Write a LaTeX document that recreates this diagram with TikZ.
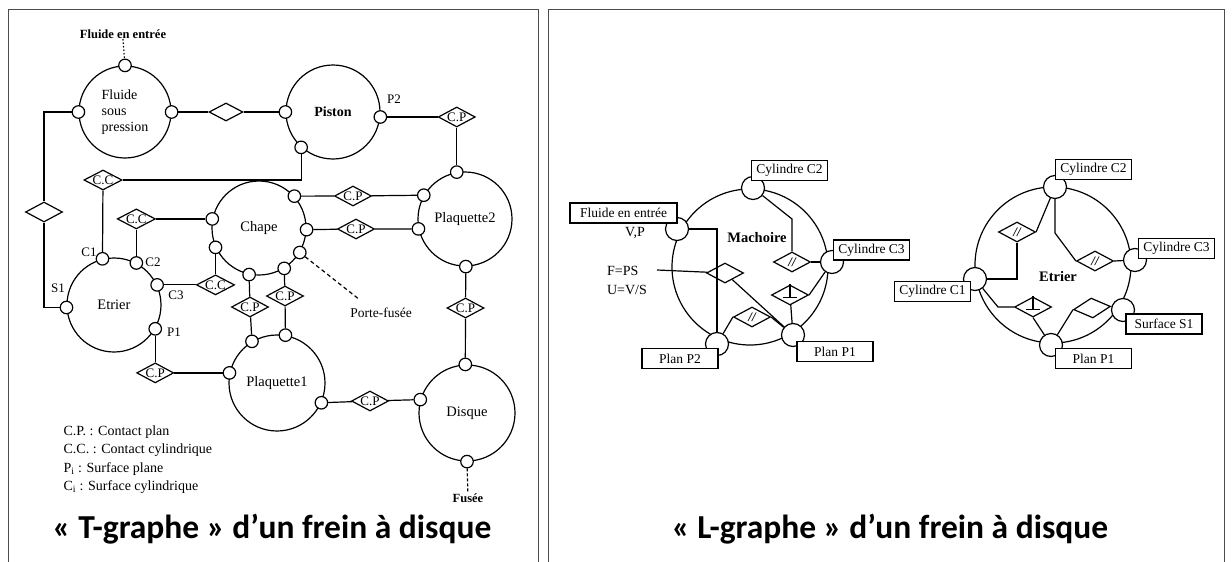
\documentclass[tikz,border=0pt]{standalone}
\usepackage{fontspec}
\setmainfont{Liberation Serif}
\newfontfamily\capfont{Carlito}
\usetikzlibrary{shapes.geometric}
\begin{document}
\begin{tikzpicture}[x=1pt,y=-1pt,line width=1.2pt,
  every node/.style={inner sep=0pt},
  big/.style={circle,draw,minimum size=94pt,font=\fontsize{14.5}{16}\selectfont},
  port/.style={circle,draw,fill=white,minimum size=12.5pt},
  lien/.style={diamond,draw,fill=white,aspect=2,minimum width=37pt,minimum height=20pt,font=\fontsize{13}{13}\selectfont},
  para/.style={lien,font=\itshape\bfseries\fontsize{13}{13}\selectfont},
  txt/.style={font=\fontsize{14}{16}\selectfont},
  bigr/.style={circle,draw,minimum size=156pt},
  portr/.style={circle,draw,fill=white,minimum size=23pt},
  tag/.style={rectangle,draw,fill=white,minimum width=76pt,minimum height=20pt,inner xsep=4pt,font=\fontsize{13.5}{15}\selectfont},
  captxt/.style={font=\capfont\bfseries\fontsize{33.5}{36}\selectfont},
  perpmark/.style={line width=1.7pt},
  panelline/.style={draw=black!70,line width=1pt}]
\useasboundingbox (0,0) rectangle (1232,562);

% panel frames
\draw[panelline] (8,562) -- (8,9) -- (538,9) -- (538,562);
\draw[panelline] (548,562) -- (548,9) -- (1224,9) -- (1224,562);

%% ---------- T-graphe ----------
\node[big,minimum size=92pt,align=left,font=\fontsize{14}{16}\selectfont] (fsp) at (125,112) {Fluide\\sous\\pression};
\node[big,font=\bfseries\fontsize{14}{16}\selectfont] (piston) at (333,112) {Piston};
\node[big] (chape) at (259,228) {Chape};
\node[big] (etrier) at (114,305) {Etrier};
\node[big] (plaq2) at (465,219) {Plaquette2};
\node[big,minimum size=96pt] (plaq1) at (277,383) {Plaquette1};
\node[big,minimum size=96pt] (disque) at (467,413) {Disque};

% surfaces
\node[port] (fT) at (fsp.90) {};
\node[port] (fL) at (fsp.180) {};
\node[port] (fR) at (fsp.0) {};
\node[port] (pL) at (piston.180) {};
\node[port] (pR) at (piston.-6) {};
\node[port] (pB) at (piston.-132) {};
\node[port] (cL) at (chape.169) {};
\node[port] (cLL) at (chape.204) {};
\node[port] (cTR) at (chape.42) {};
\node[port] (cR) at (chape.-2) {};
\node[port] (cLR) at (chape.-31) {};
\node[port] (cBR) at (chape.-58) {};
\node[port] (cB) at (chape.-102) {};
\node[port] (eC1) at (etrier.104) {};
\node[port] (eC2) at (etrier.62) {};
\node[port] (eC3) at (etrier.25) {};
\node[port] (eP1) at (etrier.-30) {};
\node[port] (eS1) at (etrier.183) {};
\node[port] (q2T) at (plaq2.100) {};
\node[port] (q2LU) at (plaq2.150) {};
\node[port] (q2L) at (plaq2.192) {};
\node[port] (q2B) at (plaq2.-89) {};
\node[port] (q1TL) at (plaq1.121) {};
\node[port] (q1T) at (plaq1.80) {};
\node[port] (q1L) at (plaq1.168) {};
\node[port] (q1R) at (plaq1.-24) {};
\node[port] (dT) at (disque.92) {};
\node[port] (dL) at (disque.164) {};
\node[port] (dB) at (disque.-90) {};

% liaisons
\node[lien,minimum width=34pt,minimum height=18pt] (j1) at (226,112) {};
\node[lien] (j2) at (44,212) {};
\node[lien] (j3) at (q2T |- pR) {C.P};
\node[lien] (j4) at (103,180) {C.C};
\node[lien] (j5) at (eC2 |- cL) {C.C};
\node[lien] (j6) at (cLL |- eC3) {C.C};
\node[lien] (j7) at (250,307) {C.P};
\node[lien] (j8) at (285,296) {C.P};
\node[lien] (j9) at (353,196) {C.P};
\node[lien] (j10) at (356,229) {C.P};
\node[lien] (j11) at (465.5,308) {C.P};
\node[lien] (j12) at (eP1 |- q1L) {C.P};
\node[lien] (j13) at (370,401) {C.P};

\draw (fR) -- (j1) -- (pL);
\draw (fL) -| (j2);
\draw (j2) |- (eS1);
\draw (pR) -- (j3) -- (q2T);
\draw (pB) |- (j4);
\draw (j4) -- (eC1);
\draw (eC2) -- (j5) -- (cL);
\draw (cLL) -- (j6) -- (eC3);
\draw (cB) -- (j7) -- (q1TL);
\draw (cBR) -- (j8) -- (q1T);
\draw (cTR) -- (j9) -- (q2LU);
\draw (cR) -- (j10) -- (q2L);
\draw (q2B) -- (j11) -- (dT);
\draw (eP1) -- (j12) -- (q1L);
\draw (q1R) -- (j13) -- (dL);

% external labels
\node[txt,font=\bfseries\fontsize{12.5}{15}\selectfont] (lfin) at (123,34) {Fluide en entrée};
\draw[dash pattern=on 1.5pt off 2pt] (lfin.south) -- (fT);
\node[txt,font=\bfseries\fontsize{12.5}{15}\selectfont] (lfus) at (468,498) {Fusée};
\draw[dash pattern=on 3pt off 2pt] (dB) -- (lfus);
\node[txt,font=\fontsize{13.5}{15}\selectfont] (lpf) at (381,313) {Porte-fusée};
\coordinate (pfe) at (360,300);
\draw[dash pattern=on 4pt off 3pt] (cLR) -- (pfe);

\node[txt,font=\fontsize{13}{15}\selectfont] (lC1) at (89,252) {C1};
\node[txt,font=\fontsize{13}{15}\selectfont] (lC2) at (153,262) {C2};
\node[txt,font=\fontsize{13}{15}\selectfont] (lC3) at (176,295) {C3};
\node[txt,font=\fontsize{13}{15}\selectfont] (lP1) at (174,332) {P1};
\node[txt,font=\fontsize{13}{15}\selectfont] (lS1) at (58,288) {S1};
\node[txt,font=\fontsize{13}{15}\selectfont] (lP2) at (394,99) {P2};

% legend
\node[txt,anchor=west] (leg1) at (63,432) {C.P. : Contact plan};
\node[txt,anchor=west] (leg2) at (63,450.5) {C.C. : Contact cylindrique};
\node[txt,anchor=west] (leg3) at (63,469) {P\textsubscript{i} : Surface plane};
\node[txt,anchor=west] (leg4) at (63,487) {C\textsubscript{i} : Surface cylindrique};

\node[captxt] (capT) at (272,529) {« T-graphe » d’un frein à disque};

%% ---------- L-graphe ----------
\node[bigr] (mach) at (750,267) {};
\node[bigr] (etr) at (1053,265) {};
\node[font=\bfseries\fontsize{14.5}{16}\selectfont] (mlab) at (757,238) {Machoire};
\node[font=\bfseries\fontsize{14.5}{16}\selectfont] (elab) at (1058,277) {Etrier};

\node[portr] (mC2) at (753,188) {};
\node[portr] (mF) at (677,229) {};
\node[portr] (mC3) at (832,262) {};
\node[portr] (mP1) at (793,335) {};
\node[portr] (mP2) at (717,344) {};

\node[portr] (rC2) at (1055,187) {};
\node[portr] (rC3) at (1135,260) {};
\node[portr] (rC1) at (975,279) {};
\node[portr] (rS1) at (1123,310) {};
\node[portr] (rP1) at (1051,345) {};

% Machoire
\node[txt,align=left,font=\fontsize{14}{19}\selectfont] (fps) at (627,280) {F=PS\\U=V/S};
\node[txt] (vp) at (635,233) {V,P};
\coordinate (fpsE) at (657,270);
\node[lien] (mjF) at (725,273) {};
\node[para] (mjB) at (752,317) {//};
\node[lien] (mjT) at (790,295) {};
\draw[perpmark] (mjT.north) -- ++(0,13) ++(-7,0) -- ++(14,0);
\node[para] (mjU) at (792,262) {//};
\coordinate (mk) at (792,219);

\draw (fpsE) -- (mjF);
\draw (mF) -| (mP2);
\draw (mjF) -- (mP1);
\draw (mP2) -- (mjB.west);
\draw (mjB.east) -- (mP1);
\draw (mjT) -- (mP1);
\draw (mjT.east) -- (mC3);
\draw (mjU.east) -- (mC3);
\draw (mC2) -- (mk) -- (mjU.north);

% Etrier
\node[para] (ejA) at (1017,232) {//};
\node[para] (ejR) at (1095,261) {//};
\node[lien] (ejP) at (1033,307) {};
\draw[perpmark] (ejP.north) -- ++(0,13) ++(-7,0) -- ++(14,0);
\node[lien,rotate=5] (ejS) at (1092,308) {};
\coordinate (ek) at (1055,233);
\coordinate (ek2) at (998,307);

\draw (ejA.east) -- (rC2);
\draw (ejA.south) |- (rC1);
\draw (ejR.east) -- (rC3);
\draw (rC2) -- (ek) -- (ejR.west);
\draw (rC1) -- (ek2) -- (ejP.west);
\draw (ejP.south) -- (rP1);
\draw (ejS.west) -- (rP1);
\draw (ejS.east) -- (rS1);

% name tags
\node[tag] (bmC2) at (789.5,170.5) {Cylindre C2};
\node[tag,minimum width=107pt] (bmF) at (623.5,213) {Fluide en entrée};
\node[tag] (bmC3) at (871.5,250) {Cylindre C3};
\node[tag] (bmP1) at (835,351.5) {Plan P1};
\node[tag] (bmP2) at (680,358.5) {Plan P2};
\node[tag] (brC2) at (1093.5,169.5) {Cylindre C2};
\node[tag] (brC3) at (1176.5,248.5) {Cylindre C3};
\node[tag] (brC1) at (932.5,291.5) {Cylindre C1};
\node[tag] (brS1) at (1164,324) {Surface S1};
\node[tag] (brP1) at (1093.5,358.5) {Plan P1};

\node[captxt] (capL) at (890,529) {« L-graphe » d’un frein à disque};
\end{tikzpicture}
\end{document}
